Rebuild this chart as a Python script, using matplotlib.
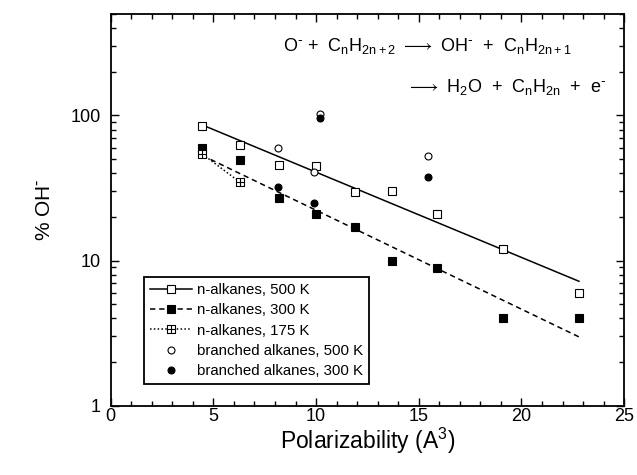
import numpy as np
import matplotlib
matplotlib.use('Agg')
import matplotlib.pyplot as plt
from matplotlib.path import Path
from matplotlib.lines import Line2D
from matplotlib.ticker import MultipleLocator, LogLocator, NullFormatter, FixedLocator, FixedFormatter

plt.rcParams['font.family'] = ['Liberation Sans', 'DejaVu Sans']
plt.rcParams['mathtext.default'] = 'regular'

# ---- data ----
n_pol = [4.46, 6.28, 8.2, 10.0, 11.9, 13.7, 15.9, 19.1, 22.8]
n500 = [85, 63, 45.6, 45, 29.8, 30, 21, 12, 6.0]
n300 = [59.7, 49.6, 27, 21, 17, 10, 8.9, 4.0, 4.0]
n175_pol = [4.46, 6.28]
n175 = [54.2, 34.8]
br_pol = [8.14, 10.19, 9.9, 15.43]
br500 = [59.3, 102.7, 40.6, 52.8]
br300 = [32, 96.4, 25, 37.9]
fit_pol = [4.46, 22.8]
fit500 = [86, 7.2]
fit300 = [53, 2.98]
ytick_vals = [1, 10, 100]
ytick_labels = ['1', '10', '100']

fig = plt.figure(figsize=(6.37, 4.75), dpi=100)
ax = fig.add_axes([0.1738, 0.1459, 0.806, 0.8246])
ax.set_yscale('log')
ax.set_xlim(0, 25)
ax.set_ylim(1, 500)

crossed = Path([(-1, -1), (1, -1), (1, 1), (-1, 1), (-1, -1), (-1, 0), (1, 0), (0, -1), (0, 1)],
               [Path.MOVETO, Path.LINETO, Path.LINETO, Path.LINETO, Path.CLOSEPOLY,
                Path.MOVETO, Path.LINETO, Path.MOVETO, Path.LINETO])

lw = 1.1
ms_sq = 5.4
ms_c = 5.0
mew = 0.8
dash = (0, (3.5, 2.5))
dot = (0, (1, 1.5))

# fit lines
ax.plot(fit_pol, fit500, color='black', lw=lw, ls='-')
ax.plot(fit_pol, fit300, color='black', lw=lw, ls=dash)
ax.plot(n175_pol, n175, color='black', lw=lw, ls=dot)

# markers
ax.plot(n_pol, n300, ls='none', marker='s', ms=ms_sq, mfc='black', mec='black', mew=mew)
ax.plot(n175_pol, n175, ls='none', marker=crossed, ms=ms_sq, mfc='white', mec='black', mew=mew)
ax.plot(n_pol, n500, ls='none', marker='s', ms=ms_sq, mfc='white', mec='black', mew=mew)
ax.plot(br_pol, br500, ls='none', marker='o', ms=ms_c, mfc='white', mec='black', mew=mew)
ax.plot(br_pol, br300, ls='none', marker='o', ms=ms_c, mfc='black', mec='black', mew=mew)

handles = [
    Line2D([], [], color='black', lw=lw, ls='-', marker='s', ms=ms_sq, mfc='white', mec='black', mew=mew),
    Line2D([], [], color='black', lw=lw, ls=dash, marker='s', ms=ms_sq, mfc='black', mec='black', mew=mew),
    Line2D([], [], color='black', lw=lw, ls=dot, marker=crossed, ms=ms_sq, mfc='white', mec='black', mew=mew),
    Line2D([], [], ls='none', marker='o', ms=ms_c, mfc='white', mec='black', mew=mew),
    Line2D([], [], ls='none', marker='o', ms=ms_c, mfc='black', mec='black', mew=mew),
]
labels = ['n-alkanes, 500 K', 'n-alkanes, 300 K', 'n-alkanes, 175 K',
          'branched alkanes, 500 K', 'branched alkanes, 300 K']
leg = ax.legend(handles, labels, loc='lower left', bbox_to_anchor=(0.0655, 0.0546),
                borderaxespad=0, fontsize=10.8, handlelength=2.8, handletextpad=0.3,
                labelspacing=0.42, borderpad=0.4, numpoints=1, fancybox=False,
                framealpha=1, edgecolor='black')
leg.get_frame().set_linewidth(1.3)

# ticks
ax.xaxis.set_major_locator(MultipleLocator(5))
ax.xaxis.set_minor_locator(MultipleLocator(1))
ax.yaxis.set_major_locator(FixedLocator(ytick_vals))
ax.yaxis.set_major_formatter(FixedFormatter(ytick_labels))
ax.yaxis.set_minor_locator(LogLocator(base=10, subs=np.arange(2, 10)))
ax.yaxis.set_minor_formatter(NullFormatter())
ax.tick_params(which='both', direction='in', top=True, right=True, width=1, labelsize=13)
ax.tick_params(which='major', length=6)
ax.tick_params(which='minor', length=3.5)
ax.tick_params(axis='x', pad=1.5)
ax.tick_params(axis='y', pad=7)
for s in ax.spines.values():
    s.set_linewidth(1.3)

ax.set_xlabel('Polarizability (A$^3$)', fontsize=16.5, labelpad=1)
ax.set_ylabel('% OH$^{\\text{-}}$', fontsize=15, labelpad=12)

ax.text(0.336, 0.906,
        'O$^{\\text{-}}$ +  C$_{n}$H$_{2n+2}$ $\\longrightarrow$ OH$^{\\text{-}}$  +  C$_{n}$H$_{2n+1}$',
        transform=ax.transAxes, fontsize=13, ha='left', va='baseline')
ax.text(0.575, 0.802, '$\\longrightarrow$ H$_{2}$O  +  C$_{n}$H$_{2n}$  +  e$^{\\text{-}}$',
        transform=ax.transAxes, fontsize=13, ha='left', va='baseline')

fig.savefig('out.png', dpi=100)
